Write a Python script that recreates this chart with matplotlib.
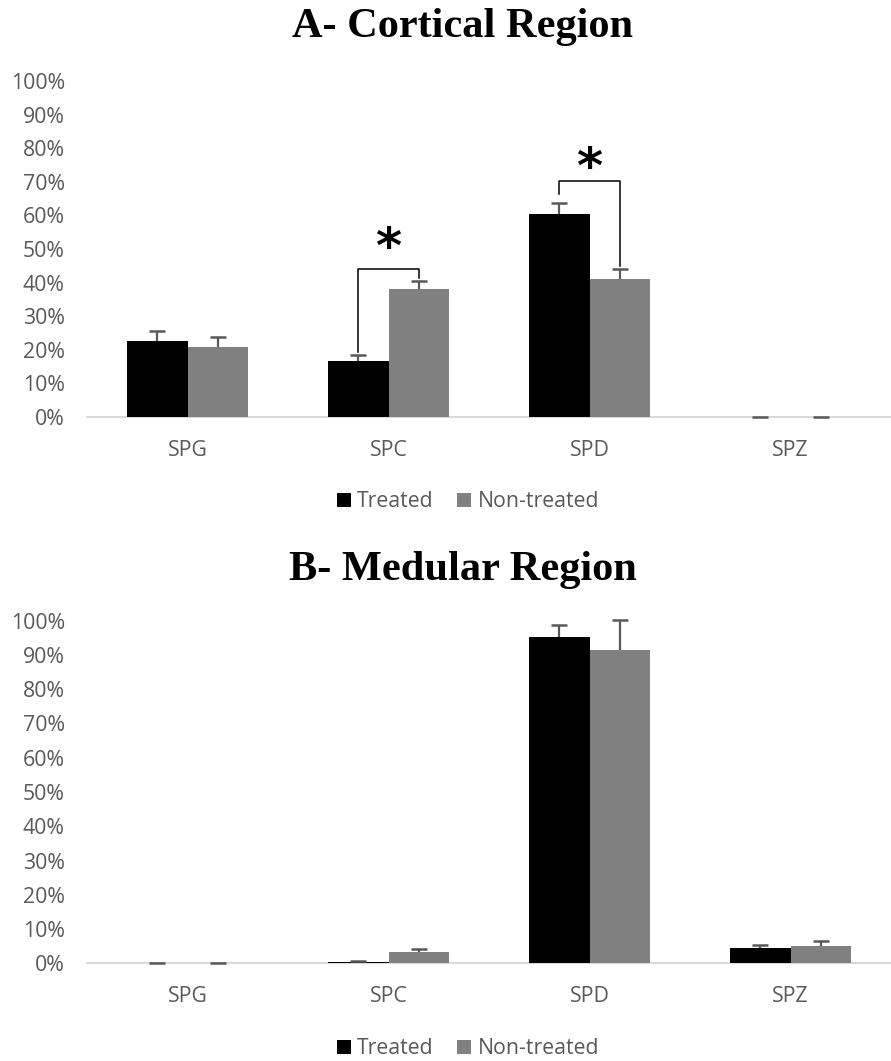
import matplotlib
matplotlib.use("Agg")
import matplotlib.pyplot as plt
import numpy as np

categories = ["SPG", "SPC", "SPD", "SPZ"]
series_names = ["Treated", "Non-treated"]

cortical_treated = [22.7, 16.8, 60.4, 0.0]
cortical_treated_err = [3.0, 1.6, 3.2, 0.0]
cortical_non = [20.9, 38.0, 41.2, 0.0]
cortical_non_err = [3.0, 2.6, 2.7, 0.0]

medular_treated = [0.0, 0.4, 95.1, 4.4]
medular_treated_err = [0.0, 0.3, 3.6, 0.8]
medular_non = [0.0, 3.4, 91.5, 5.0]
medular_non_err = [0.0, 0.8, 8.7, 1.6]

yticks = [0, 10, 20, 30, 40, 50, 60, 70, 80, 90, 100]
ytick_labels = [f"{v}%" for v in yticks]

titles = ["A- Cortical Region", "B- Medular Region"]

colors = ["#000000", "#808080"]
err_color = "#595959"
text_color = "#595959"
tick_font = "Open Sans"
fs = 15.3

fig = plt.figure(figsize=(8.91, 10.61), dpi=100)

W, H = 891, 1061
def axes_rect(left, right, top, bottom):
    return [left / W, 1 - bottom / H, (right - left) / W, (bottom - top) / H]

ax1 = fig.add_axes(axes_rect(87, 891, 81, 417))
ax2 = fig.add_axes(axes_rect(87, 891, 620.7, 963.3))

bw = 0.30
x = np.arange(len(categories))

def draw(ax, t, te, n, ne):
    t = np.array(t); te = np.array(te); n = np.array(n); ne = np.array(ne)
    ax.bar(x - bw / 2, t, bw, color=colors[0], label=series_names[0], zorder=2)
    ax.bar(x + bw / 2, n, bw, color=colors[1], label=series_names[1], zorder=2)
    for xs, v, e in [(x - bw / 2, t, te), (x + bw / 2, n, ne)]:
        ax.errorbar(xs, v, yerr=[np.zeros(len(e)), e], fmt="none",
                    ecolor=err_color, elinewidth=1.6, capsize=0,
                    zorder=3, clip_on=False)
        ax.plot(xs, v + e, ls="none", marker="_", markersize=12,
                markeredgewidth=1.8, color=err_color, zorder=3, clip_on=False)
    ax.set_xlim(-0.5, len(categories) - 0.5)
    ax.set_ylim(0, 100)
    ax.set_yticks(yticks)
    ax.set_yticklabels(ytick_labels)
    ax.set_xticks(x)
    ax.set_xticklabels(categories)
    for s in ["top", "right", "left"]:
        ax.spines[s].set_visible(False)
    ax.spines["bottom"].set_color("#d9d9d9")
    ax.spines["bottom"].set_linewidth(1.5)
    ax.spines["bottom"].set_zorder(1)
    ax.tick_params(axis="both", length=0, labelsize=fs, colors=text_color)
    ax.tick_params(axis="y", pad=16)
    ax.tick_params(axis="x", pad=16.5)
    for lab in ax.get_xticklabels() + ax.get_yticklabels():
        lab.set_fontfamily(tick_font)
        lab.set_color(text_color)

draw(ax1, cortical_treated, cortical_treated_err, cortical_non, cortical_non_err)
draw(ax2, medular_treated, medular_treated_err, medular_non, medular_non_err)

# significance brackets on the cortical chart
def bracket(ax, i, top, left_bottom, right_bottom, star_y):
    xl = x[i] - bw / 2
    xr = x[i] + bw / 2
    ax.plot([xl, xl, xr, xr], [left_bottom, top, top, right_bottom],
            color="black", lw=1.1, zorder=4)
    ax.text((xl + xr) / 2, star_y, "*", ha="center", va="center",
            fontsize=36, fontweight="bold", color="black", family="DejaVu Sans")

bracket(ax1, 1, 44.1, 19.2, 41.3, 50.0)
bracket(ax1, 2, 70.3, 66.5, 45.0, 73.8)

fig.text(463 / W, 1 - 27 / H, titles[0], ha="center", va="center",
         fontsize=30.5, fontweight="bold", family="Liberation Serif", color="black")
fig.text(463 / W, 1 - 570 / H, titles[1], ha="center", va="center",
         fontsize=30.5, fontweight="bold", family="Liberation Serif", color="black")

# legends
for ax, ly in [(ax1, 502), (ax2, 1049)]:
    leg = fig.legend(*ax.get_legend_handles_labels(), loc="center",
                     bbox_to_anchor=(468 / W, 1 - ly / H), ncol=2, frameon=False,
                     handlelength=0.66, handleheight=0.66, handletextpad=0.3,
                     columnspacing=1.1,
                     prop={"family": tick_font, "size": fs})
    for t in leg.get_texts():
        t.set_color(text_color)

fig.savefig("out.png", dpi=100)
